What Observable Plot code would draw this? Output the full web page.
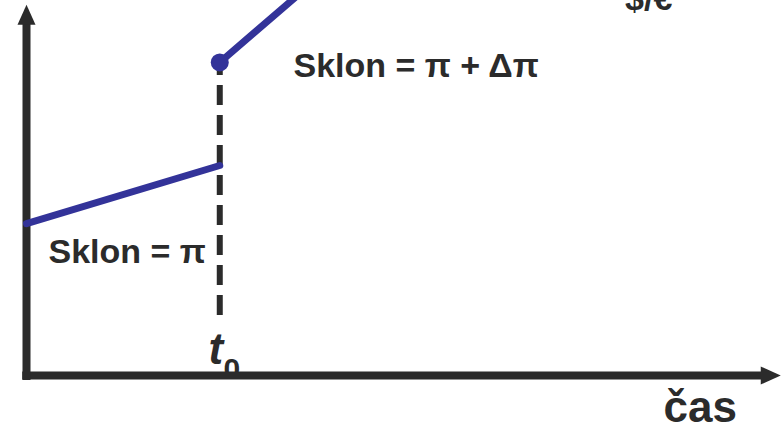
<!DOCTYPE html>
<html>
<head>
<meta charset="utf-8">
<script src="https://cdn.jsdelivr.net/npm/d3@7"></script>
<script src="https://cdn.jsdelivr.net/npm/@observablehq/plot@0.6"></script>
<style>
  html, body { margin: 0; padding: 0; background: #fff; }
</style>
</head>
<body>
<div id="chart"></div>
<script>
// Time of the change in money-growth rate
const t0 = [25.7];
// Path before t0 (slope = π)
const beforeTime = [0, 25.7];
const beforeLog = [40.5, 56];
// Path after t0 (slope = π + Δπ), starts with a jump
const afterTime = [25.7, 37];
const afterLog = [83.5, 103];
// Labels
const labelText = ["Sklon = π", "Sklon = π + Δπ"];
const labelTime = [2.93, 35.5];
const labelLog = [29.9, 79.5];
const xLabel = ["čas"];
const yLabelSub = ["$/€"];

const blue = "#333399";
const ink = "#2b2b2b";
const font = "Liberation Sans, Arial, sans-serif";

const before = beforeTime.map((t, i) => ({t, v: beforeLog[i]}));
const after = afterTime.map((t, i) => ({t, v: afterLog[i]}));
const labels = labelText.map((s, i) => ({s, t: labelTime[i], v: labelLog[i]}));

// filled arrowhead with its tip at the anchor point, pointing up
const arrowHead = {
  draw(context) {
    context.moveTo(0, 0);
    context.lineTo(9, 20);
    context.lineTo(-9, 20);
    context.closePath();
  }
};

const chart = Plot.plot({
  width: 783,
  height: 430,
  margin: 0,
  x: {domain: [0, 100], range: [26, 778], axis: null},
  y: {domain: [0, 100], range: [375, 0], axis: null},
  marks: [
    // dashed guide at t0
    Plot.ruleX(t0, {y1: 16, y2: 83.5, stroke: ink, strokeWidth: 6, strokeDasharray: "20,10"}),
    // t0 label
    Plot.text(["t"], {x: 24.2, y: 3.2, text: d => d, fontFamily: font, fontWeight: "bold", fontStyle: "italic", fontSize: 44, fill: ink, textAnchor: "start", lineAnchor: "bottom"}),
    Plot.text(["0"], {x: 26.2, y: -0.8, text: d => d, fontFamily: font, fontWeight: "bold", fontSize: 30, fill: ink, textAnchor: "start", lineAnchor: "bottom"}),
    // axes
    Plot.ruleY([0], {x1: -0.5, x2: 98.5, stroke: ink, strokeWidth: 8}),
    Plot.ruleX([0], {y1: -1.3, y2: 95, stroke: ink, strokeWidth: 8}),
    Plot.dot([0], {x: 0, y: 98.9, symbol: arrowHead, fill: ink, stroke: "none"}),
    Plot.dot([0], {x: 100.3, y: 0, symbol: arrowHead, rotate: 90, fill: ink, stroke: "none"}),
    // price paths
    Plot.line(before, {x: "t", y: "v", stroke: blue, strokeWidth: 7}),
    Plot.line(after, {x: "t", y: "v", stroke: blue, strokeWidth: 7}),
    Plot.dot([after[0]], {x: "t", y: "v", r: 9, fill: blue, stroke: "none"}),
    // labels
    Plot.text(labels, {x: "t", y: "v", text: "s", fontFamily: font, fontWeight: "bold", fontSize: 34, fill: ink, textAnchor: "start", lineAnchor: "bottom"}),
    Plot.text(xLabel, {x: 84.7, y: -12.5, text: d => d, fontFamily: font, fontWeight: "bold", fontSize: 44, fill: ink, textAnchor: "start", lineAnchor: "bottom"}),
    Plot.text(yLabelSub, {x: 79.6, y: 97.5, text: d => d, fontFamily: font, fontWeight: "bold", fontSize: 34, fill: ink, textAnchor: "start", lineAnchor: "bottom"})
  ]
});
document.getElementById("chart").append(chart);
</script>
</body>
</html>
